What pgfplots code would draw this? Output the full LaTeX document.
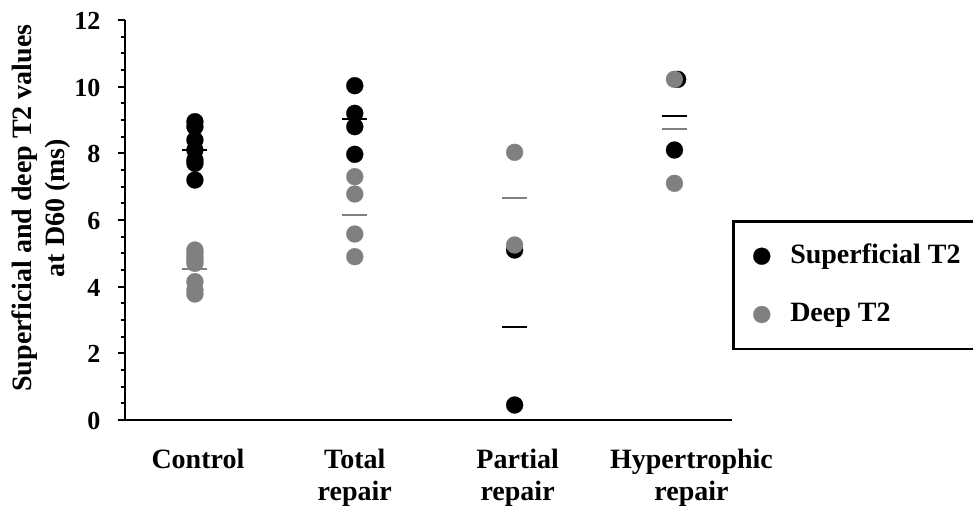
\documentclass[border=0pt]{standalone}
\usepackage{fontspec}
\setmainfont{Liberation Serif}
\usepackage{pgfplots}
\pgfplotsset{compat=1.18}
\definecolor{ptgrey}{RGB}{128,128,128}
\newcommand{\ff}{\fontsize{28}{32}\selectfont\bfseries}
\begin{document}
\ff
\begin{tikzpicture}
\begin{axis}[
  at={(0pt,0pt)}, anchor=south west,
  scale only axis, width=607pt, height=400pt,
  xmin=0.5625, xmax=4.36, ymin=0, ymax=12,
  clip=false,
  axis lines*=left,
  axis line style={line width=2pt, -},
  ytick={0,2,...,12}, minor y tick num=3,
  xtick={1,2,3,4},
  xticklabels={\hspace*{6pt}Control, Total\\repair, \hspace*{6pt}Partial\\\hspace*{6pt}repair, \hspace*{34pt}Hypertrophic\\\hspace*{34pt}repair},
  xticklabel style={align=center, font=\ff, yshift=-13pt},
  yticklabel style={font=\fontsize{26}{30}\selectfont\bfseries, xshift=-8pt, yshift=-1pt},
  /pgf/number format/assume math mode=true,
  x tick style={draw=none},
  y tick style={line width=2pt, black},
  tick align=outside, major tick length=7pt, minor tick length=4pt,
  ylabel={Superficial and deep T2 values\\at D60 (ms)},
  ylabel style={align=center, at={(axis description cs:-0.1384,0.53)}, anchor=center, font=\fontsize{28}{33}\selectfont\bfseries},
  legend style={at={(rel axis cs:1,0.5)}, anchor=north west, draw=black, line width=2.5pt,
    inner xsep=20pt, inner ysep=21pt, row sep=31pt, font=\ff},
  legend cell align=left,
]
\addplot[black, only marks, mark=*, mark size=8.5pt, mark options={draw=black, fill=black, line width=0.2pt}]
  coordinates {(1,8.95) (1,8.8) (1,8.4) (1,8.1) (1,7.8) (1,7.7) (1,7.2)
               (2,10.03) (2,9.2) (2,8.8) (2,7.97)
               (3,5.1) (3,0.45)
               (4.02,10.22) (4,8.1)};
\addlegendentry{\makebox[190pt][l]{\hspace*{18pt}Superficial T2}}
\addplot[ptgrey, only marks, mark=*, mark size=8.5pt, mark options={draw=ptgrey, fill=ptgrey, line width=0.2pt}]
  coordinates {(1,5.1) (1,5.0) (1,4.9) (1,4.8) (1,4.7) (1,4.15) (1,3.9) (1,3.78)
               (2,7.3) (2,6.78) (2,5.58) (2,4.9)
               (3,8.03) (3,5.25)
               (4,10.22) (4,7.1)};
\addlegendentry{\makebox[190pt][l]{\hspace*{18pt}Deep T2}}
\addplot[only marks, mark=-, mark size=12.5pt, mark options={line width=2pt, draw=black}, forget plot]
  coordinates {(1,8.1) (2,9.03) (3,2.78) (4,9.13)};
\addplot[only marks, mark=-, mark size=12.5pt, mark options={line width=2pt, draw=ptgrey}, forget plot]
  coordinates {(1,4.53) (2,6.15) (3,6.65) (4,8.72)};
\end{axis}
\pgfresetboundingbox
\path[use as bounding box] (-125pt,-87pt) rectangle (848pt,420pt);
\end{tikzpicture}
\end{document}
